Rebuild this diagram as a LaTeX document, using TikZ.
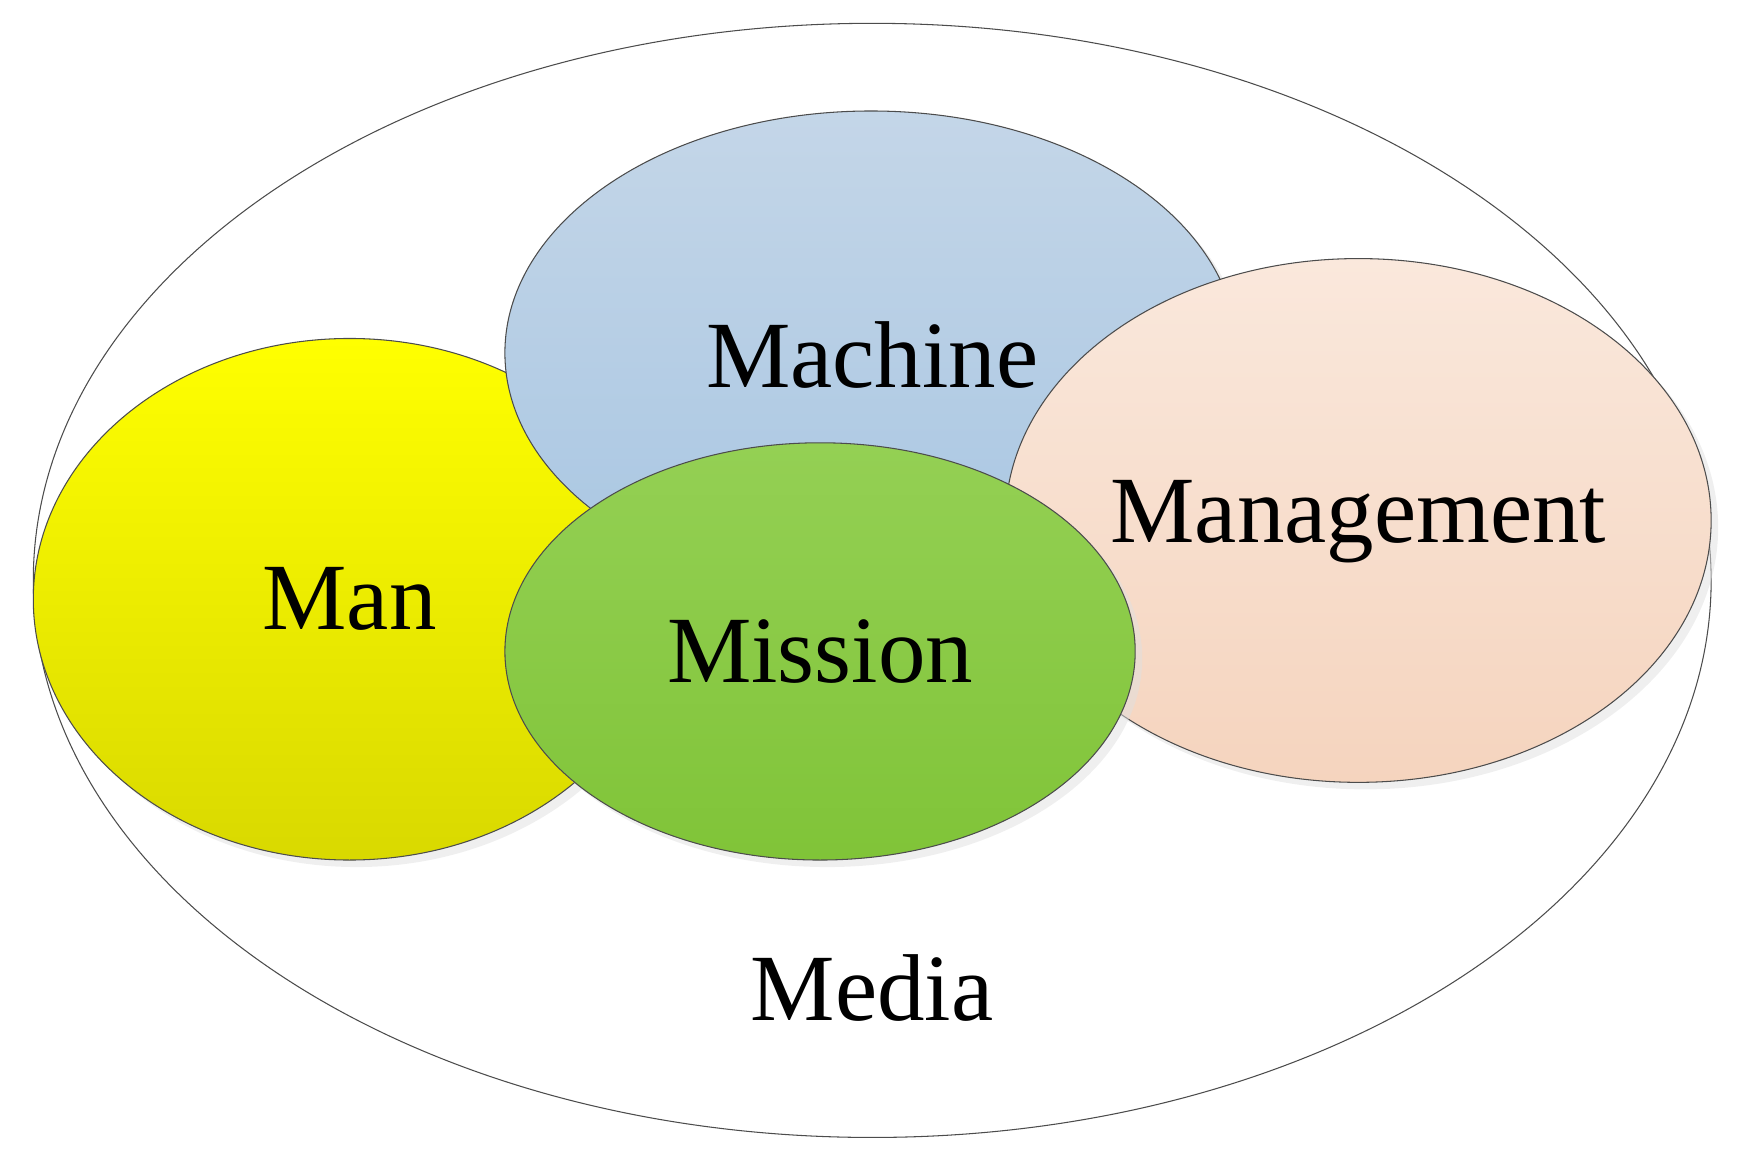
\documentclass[tikz,border=0pt]{standalone}
\usepackage{fontspec}
\setmainfont{Liberation Serif}
\usetikzlibrary{shapes.geometric,shadows}
\tikzset{
    blob/.style={ellipse, draw=black!70, line width=0.3pt, drop shadow={shadow xshift=2pt, shadow yshift=-2pt, fill=black!12}},
    lbl/.style={font=\fontsize{27}{30}\selectfont}
}
\begin{document}
\begin{tikzpicture}[x=0.0111cm, y=-0.0111cm]
    \useasboundingbox (0,0) rectangle (1568,1042);
    \node[ellipse, draw=black!70, line width=0.3pt, minimum width=1512*0.0111cm, minimum height=1004*0.0111cm] (media) at (786,523) {};
    \node[lbl] (medialbl) at (786,890) {Media};
    \node[blob, top color=yellow, bottom color=yellow!85!black, minimum width=570*0.0111cm, minimum height=470*0.0111cm] (man) at (315,540) {};
    \node[blob, top color=blue!22!cyan!10!white!80!gray, bottom color=blue!25!cyan!12!white!75!gray, top color={rgb,255:red,196;green,214;blue,232}, bottom color={rgb,255:red,168;green,198;blue,226}, minimum width=660*0.0111cm, minimum height=436*0.0111cm] (machine) at (785,318) {};
    \node[blob, top color={rgb,255:red,250;green,232;blue,220}, bottom color={rgb,255:red,245;green,212;blue,190}, minimum width=636*0.0111cm, minimum height=472*0.0111cm] (mgmt) at (1224,469) {};
    \node[blob, top color={rgb,255:red,148;green,208;blue,84}, bottom color={rgb,255:red,128;green,196;blue,56}, minimum width=568*0.0111cm, minimum height=376*0.0111cm] (mission) at (739,587) {};
    \node[lbl] at (315,540) {Man};
    \node[lbl] at (786,320) {Machine};
    \node[lbl] at (1224,470) {Management};
    \node[lbl] at (739,587) {Mission};
\end{tikzpicture}
\end{document}
